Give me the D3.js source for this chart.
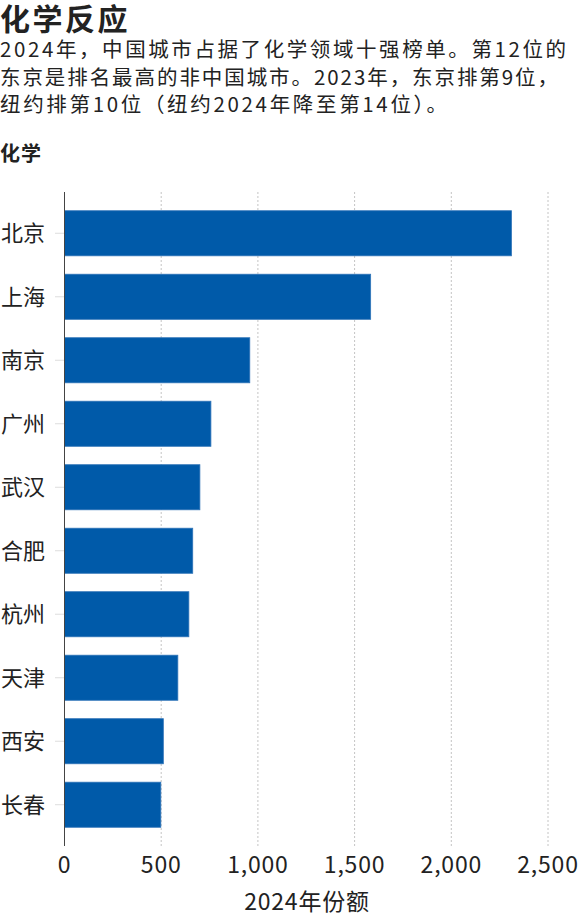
<!DOCTYPE html>
<html>
<head>
<meta charset="utf-8">
<script src="https://cdn.jsdelivr.net/npm/d3@7"></script>
<style>
  body { margin: 0; background: #fff; font-family: "Noto Sans CJK SC", "Noto Sans", sans-serif; color: #222; }
  svg text { fill: #222; }
</style>
</head>
<body>
<svg id="chart" width="581" height="916"></svg>
<script>
// cities and their 2024 share
const cities = ["北京", "上海", "南京", "广州", "武汉", "合肥", "杭州", "天津", "西安", "长春"];
const shares = [2311, 1583, 958, 757, 700, 663, 643, 586, 511, 498];
const ticks = [0, 500, 1000, 1500, 2000, 2500];

const title = "化学反应";
const subtitle = [
  "2024年，中国城市占据了化学领域十强榜单。第12位的",
  "东京是排名最高的非中国城市。2023年，东京排第9位，",
  "纽约排第10位（纽约2024年降至第14位）。"
];
const subWidths = [566, 558, 447];
const panelTitle = "化学";
const axisTitle = "2024年份额";

const svg = d3.select("#chart");

svg.append("text").attr("x", 0).attr("y", 30)
  .style("font-size", "30px").style("font-weight", "700")
  .style("letter-spacing", "2.5px")
  .text(title);

svg.selectAll(".sub").data(subtitle).enter().append("text")
  .attr("class", "sub")
  .attr("x", 0).attr("y", (d, i) => 57 + i * 27.5)
  .attr("textLength", (d, i) => subWidths[i])
  .attr("lengthAdjust", "spacing")
  .style("font-size", "20.5px")
  .text(d => d);

svg.append("text").attr("x", 0).attr("y", 161)
  .style("font-size", "20px").style("font-weight", "700")
  .style("letter-spacing", "1px")
  .text(panelTitle);

const x = d3.scaleLinear().domain([0, 2500]).range([64.5, 548]);
const y = d3.scaleBand().domain(cities).range([192, 846])
  .paddingInner(0.29).paddingOuter(0.295);

// gridlines
svg.selectAll(".grid").data(ticks.slice(1)).enter().append("line")
  .attr("x1", d => x(d)).attr("x2", d => x(d))
  .attr("y1", 192).attr("y2", 846)
  .attr("stroke", "#c4c4c4").attr("stroke-width", 1)
  .attr("stroke-dasharray", "2,2");

// category tick marks
svg.selectAll(".ctick").data(cities).enter().append("line")
  .attr("x1", 55).attr("x2", 64)
  .attr("y1", d => y(d) + y.bandwidth() / 2).attr("y2", d => y(d) + y.bandwidth() / 2)
  .attr("stroke", "#ddd");

svg.selectAll(".bar").data(cities).enter().append("rect")
  .attr("x", x(0))
  .attr("y", d => y(d))
  .attr("width", (d, i) => x(shares[i]) - x(0))
  .attr("height", y.bandwidth())
  .attr("fill", "#005aa9")
  .attr("stroke", "#2f74b8").attr("stroke-width", 0.8);

svg.append("line")
  .attr("x1", x(0)).attr("x2", x(0))
  .attr("y1", 192).attr("y2", 846)
  .attr("stroke", "#444").attr("stroke-width", 1);

svg.selectAll(".clabel").data(cities).enter().append("text")
  .attr("x", 1)
  .attr("y", d => y(d) + y.bandwidth() / 2)
  .attr("dy", "0.36em")
  .style("font-size", "22px")
  .text(d => d);

svg.selectAll(".tlabel").data(ticks).enter().append("text")
  .attr("x", d => x(d))
  .attr("y", 873)
  .attr("text-anchor", "middle")
  .style("font-size", "23px")
  .style("letter-spacing", "0.8px")
  .text(d => d3.format(",")(d));

svg.append("text")
  .attr("x", 307).attr("y", 910)
  .attr("text-anchor", "middle")
  .style("font-size", "23px")
  .style("letter-spacing", "0.8px")
  .text(axisTitle);
</script>
</body>
</html>
